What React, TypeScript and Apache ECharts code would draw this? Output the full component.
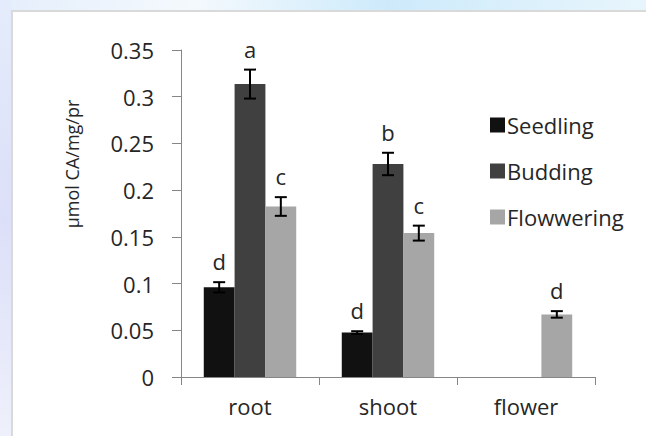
import React, { useEffect, useRef } from "react";
import * as echarts from "echarts";

const categories = ["root", "shoot", "flower"];
const seriesNames = ["Seedling", "Budding", "Flowwering"];
const seedling = [0.096, 0.0475, null];
const budding = [0.3135, 0.228, null];
const flowering = [0.1825, 0.154, 0.067];
const seedlingErr = [0.0055, 0.0015, null];
const buddingErr = [0.0155, 0.012, null];
const floweringErr = [0.01, 0.008, 0.0035];
const seedlingLetters = ["d", "d", ""];
const buddingLetters = ["a", "b", ""];
const floweringLetters = ["c", "c", "d"];
const yMin = 0;
const yMax = 0.35;
const yInterval = 0.05;

const colors = ["#111111", "#404040", "#a6a6a6"];
const FONT = "Open Sans";

export default function App() {
  const ref = useRef<HTMLDivElement>(null);
  useEffect(() => {
    if (!ref.current) return;
    const chart = echarts.init(ref.current, null, { renderer: "svg" });
    const values = [seedling, budding, flowering];
    const errs = [seedlingErr, buddingErr, floweringErr];
    const letters = [seedlingLetters, buddingLetters, floweringLetters];
    const catGap = 0.33;

    const barSeries = values.map((vals, g) => ({
      name: seriesNames[g],
      type: "bar",
      data: vals,
      barGap: "0%",
      barCategoryGap: "33%",
      itemStyle: { color: colors[g] },
      z: 2,
    }));

    const errSeries = values.map((vals, g) => ({
      name: seriesNames[g] + " error",
      type: "custom",
      z: 5,
      data: vals
        .map((v, i) => (v == null ? null : [i, v, errs[g][i] as number]))
        .filter((d) => d != null),
      encode: { x: 0, y: 1 },
      renderItem: (params: any, api: any) => {
        const ci = api.value(0);
        const v = api.value(1);
        const e = api.value(2);
        const c = api.coord([ci, v]);
        const top = api.coord([ci, v + e]);
        const bot = api.coord([ci, v - e]);
        const band = api.size([1, 0])[0];
        const bw = (band * (1 - catGap)) / 3;
        const x = c[0] + (g - 1) * bw;
        const cap = 6;
        const ls = { stroke: "#000", lineWidth: 2 };
        const letter = letters[g][ci];
        return {
          type: "group",
          children: [
            { type: "line", shape: { x1: x, y1: top[1], x2: x, y2: bot[1] }, style: ls },
            { type: "line", shape: { x1: x - cap, y1: top[1], x2: x + cap, y2: top[1] }, style: ls },
            { type: "line", shape: { x1: x - cap, y1: bot[1], x2: x + cap, y2: bot[1] }, style: ls },
            {
              type: "text",
              x: x,
              y: top[1] - 21,
              style: {
                text: letter,
                fontFamily: FONT,
                fontSize: 22,
                fill: "#262626",
                align: "center",
                verticalAlign: "middle",
              },
            },
          ],
        };
      },
    }));

    chart.setOption({
      animation: false,
      backgroundColor: "#ffffff",
      textStyle: { fontFamily: FONT },
      graphic: [
        {
          type: "rect",
          z: -10,
          shape: { x: 0, y: 0, width: 646, height: 11 },
          style: {
            fill: new echarts.graphic.LinearGradient(0, 0, 1, 0, [
              { offset: 0, color: "#e4eefb" },
              { offset: 0.3, color: "#f4f9fd" },
              { offset: 0.6, color: "#cdeafb" },
              { offset: 1, color: "#e8f5fc" },
            ]),
          },
        },
        {
          type: "rect",
          z: -10,
          shape: { x: 0, y: 0, width: 11, height: 436 },
          style: {
            fill: new echarts.graphic.LinearGradient(0, 0, 0, 1, [
              { offset: 0, color: "#e4ecfb" },
              { offset: 0.5, color: "#dcdff8" },
              { offset: 1, color: "#eef0fb" },
            ]),
          },
        },
        {
          type: "rect",
          z: -9,
          shape: { x: 12, y: 11, width: 700, height: 500 },
          style: { fill: "#ffffff", stroke: "#d9d9d9", lineWidth: 2 },
        },
        {
          type: "text",
          x: 71.5,
          y: 164,
          rotation: Math.PI / 2,
          style: {
            text: "µmol CA/mg/pr",
            fontFamily: FONT,
            fontSize: 18,
            fill: "#262626",
            align: "center",
            verticalAlign: "middle",
          },
        },
      ],
      legend: {
        data: seriesNames,
        orient: "vertical",
        left: 485,
        top: 109,
        itemWidth: 15,
        itemHeight: 15,
        itemGap: 24,
        icon: "rect",
        textStyle: { fontFamily: FONT, fontSize: 22, color: "#262626", padding: [0, 0, 0, -3] },
      },
      grid: { left: 181, right: 51, top: 50, bottom: 59 },
      xAxis: {
        type: "category",
        data: categories,
        axisLine: { lineStyle: { color: "#868686", width: 1 } },
        axisTick: { show: true, length: 8, lineStyle: { color: "#868686" } },
        axisLabel: { fontFamily: FONT, fontSize: 22, color: "#262626", margin: 18 },
      },
      yAxis: {
        type: "value",
        min: yMin,
        max: yMax,
        interval: yInterval,
        splitLine: { show: false },
        axisLine: { show: true, lineStyle: { color: "#868686", width: 1 } },
        axisTick: { show: true, length: 9, lineStyle: { color: "#868686" } },
        axisLabel: { fontFamily: FONT, fontSize: 22, color: "#262626", margin: 27 },
      },
      series: [...barSeries, ...errSeries],
    });
    return () => chart.dispose();
  }, []);
  return (
    <div
      ref={ref}
      style={{ position: "fixed", left: 0, top: 0, width: 646, height: 436 }}
    />
  );
}
